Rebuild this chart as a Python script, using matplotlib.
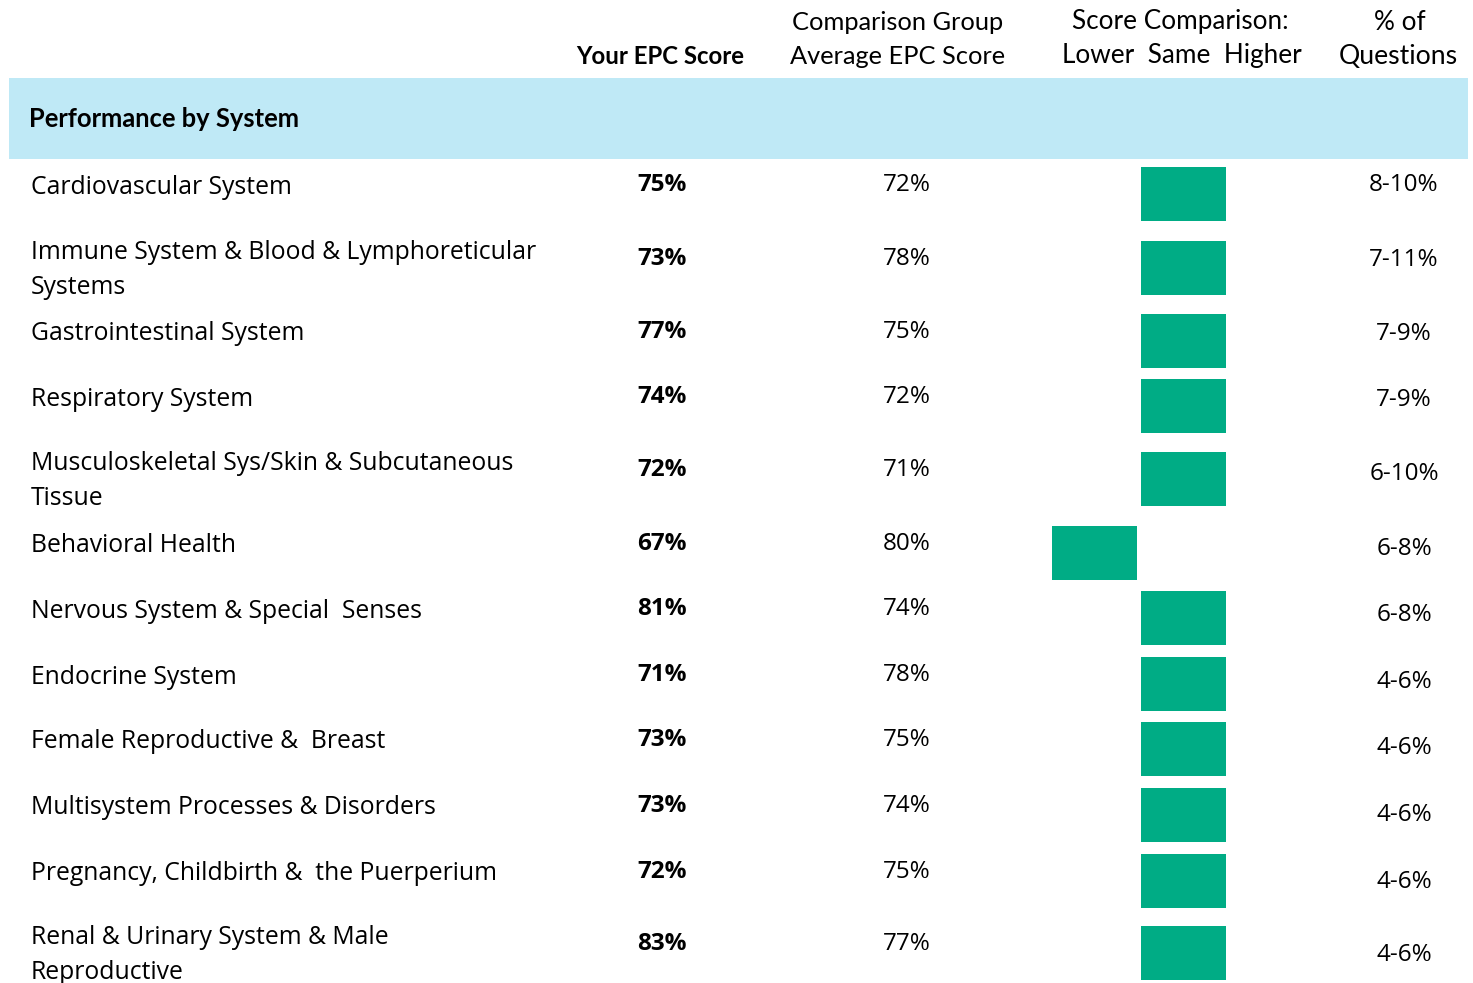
import matplotlib
matplotlib.use("Agg")
import matplotlib.pyplot as plt
from matplotlib.patches import Rectangle
from matplotlib import font_manager

# ---------------- data ----------------
systems = [
    "Cardiovascular System",
    "Immune System & Blood & Lymphoreticular\nSystems",
    "Gastrointestinal System",
    "Respiratory System",
    "Musculoskeletal Sys/Skin & Subcutaneous\nTissue",
    "Behavioral Health",
    "Nervous System & Special  Senses",
    "Endocrine System",
    "Female Reproductive &  Breast",
    "Multisystem Processes & Disorders",
    "Pregnancy, Childbirth &  the Puerperium",
    "Renal & Urinary System & Male\nReproductive",
]
your_score = ["75%", "73%", "77%", "74%", "72%", "67%", "81%", "71%", "73%", "73%", "72%", "83%"]
group_score = ["72%", "78%", "75%", "72%", "71%", "80%", "74%", "78%", "75%", "74%", "75%", "77%"]
comparison = ["Same", "Same", "Same", "Same", "Same", "Lower", "Same", "Same", "Same", "Same", "Same", "Same"]
pct_questions = ["8-10%", "7-11%", "7-9%", "7-9%", "6-10%", "6-8%", "6-8%", "4-6%", "4-6%", "4-6%", "4-6%", "4-6%"]
comp_categories = ["Lower", "Same", "Higher"]

# ---------------- layout ----------------
W, H = 1473, 983
row_tops = [167, 241, 314, 379, 452, 526, 591, 657, 722, 788, 854, 926]
bar_h = 54
cat_x0 = 1052      # left edge of "Lower" slot
cat_step = 89
cat_w = 85

GREEN = "#00AC85"
BAND = "#BFE9F6"


def pick(names):
    for n in names:
        try:
            font_manager.findfont(font_manager.FontProperties(family=n), fallback_to_default=False)
            return [n, "DejaVu Sans"]
        except Exception:
            continue
    return ["DejaVu Sans"]


ROW_FONT = pick(["Open Sans", "Noto Sans"])
HEAD_FONT = pick(["Lato", "Liberation Sans Narrow"])

fig = plt.figure(figsize=(W / 100, H / 100), dpi=100)
ax = fig.add_axes([0, 0, 1, 1])
ax.set_xlim(0, W)
ax.set_ylim(H, 0)
ax.axis("off")

# header band
ax.add_patch(Rectangle((9, 78), 1459, 81, facecolor=BAND, edgecolor="none"))
ax.text(29, 119, "Performance by System", fontsize=18.4, fontweight="bold",
        family=HEAD_FONT, va="center", ha="left", color="black")

# column headers
hs = 18.8
ax.text(660, 56, "Your EPC Score", fontsize=17.3, fontweight="bold", family=HEAD_FONT, ha="center", va="center")
ax.text(898, 22, "Comparison Group", fontsize=18.3, family=HEAD_FONT, ha="center", va="center")
ax.text(898, 56, "Average EPC Score", fontsize=18.3, family=HEAD_FONT, ha="center", va="center")
ax.text(1180, 22, "Score Comparison:", fontsize=hs, family=HEAD_FONT, ha="center", va="center")
ax.text(1182, 56, "Lower  Same  Higher", fontsize=hs, family=HEAD_FONT, ha="center", va="center")
ax.text(1400, 22, "% of", fontsize=hs, family=HEAD_FONT, ha="center", va="center")
ax.text(1398, 56, "Questions", fontsize=19.2, family=HEAD_FONT, ha="center", va="center")

# rows
fs = 17.8
for i, (lab, ys, gs, cmp, pq) in enumerate(zip(systems, your_score, group_score, comparison, pct_questions)):
    top = row_tops[i]
    if "\n" in lab:
        ax.text(31, top + 29, lab, fontsize=fs, family=ROW_FONT, ha="left", va="center",
                linespacing=1.5)
    else:
        ax.text(31, top + 20, lab, fontsize=fs, family=ROW_FONT, ha="left", va="center")
    ax.text(662, top + 18, ys, fontsize=17.5, fontweight="bold", family=ROW_FONT, ha="center", va="center")
    ax.text(907, top + 18, gs, fontsize=17.5, family=ROW_FONT, ha="center", va="center")
    ax.text(1404, top + 18 + i, pq, fontsize=17.5, family=ROW_FONT, ha="center", va="center")
    k = comp_categories.index(cmp)
    ax.bar(cat_x0 + k * cat_step, bar_h, width=cat_w, bottom=top, align="edge",
           color=GREEN, edgecolor="none")

fig.savefig("out.png", dpi=100)
